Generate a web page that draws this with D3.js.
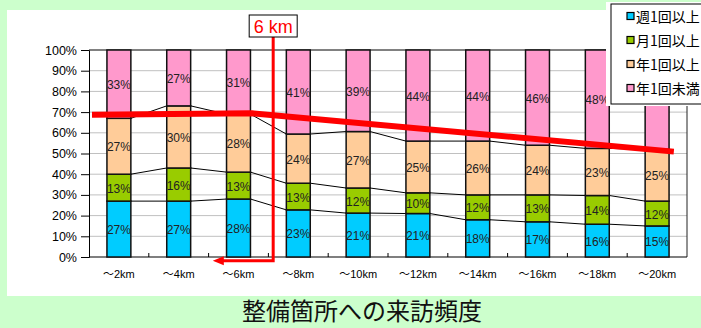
<!DOCTYPE html>
<html>
<head>
<meta charset="utf-8">
<script src="https://cdn.jsdelivr.net/npm/d3@7"></script>
<style>
  html, body { margin: 0; padding: 0; background: #ccffcc; }
  svg { display: block; }
</style>
</head>
<body>
<svg id="chart" width="701" height="328"></svg>
<script>
// Distance bands and visit-frequency shares (%)
const categories = ["～2km", "～4km", "～6km", "～8km", "～10km", "～12km", "～14km", "～16km", "～18km", "～20km"];
const weekly   = [27, 27, 28, 23, 21, 21, 18, 17, 16, 15];
const monthly  = [13, 16, 13, 13, 12, 10, 12, 13, 14, 12];
const yearly   = [27, 30, 28, 24, 27, 25, 26, 24, 23, 25];
const rarely   = [33, 27, 31, 41, 39, 44, 44, 46, 48, 48];
const seriesNames = ["週1回以上", "月1回以上", "年1回以上", "年1回未満"];
const seriesColors = ["#00ccff", "#99cc00", "#ffcc99", "#ff99cc"];
const yTicks = [0, 10, 20, 30, 40, 50, 60, 70, 80, 90, 100];

// Trend annotation: positions in band units, levels in %
const trendX = [0.05, 2.73, 9.78];
const trendY = [68.7, 69.4, 50.9];

// "6km" marker: vertical drop in band units, pointing back to the 6km band
const markerText = "6 km";
const markerX = 3.08;
const markerArrowX = 2.07;
const markerLevel = -1.8;

const chartTitle = "整備箇所への来訪頻度";

const svg = d3.select("#chart");
const W = 701, H = 328;
const plot = { left: 89, right: 687, top: 50, bottom: 257 };
const legendBox = { x: 611, y: 4, w: 100, h: 100 };

// white panel
svg.append("rect").attr("x", 7).attr("y", 10).attr("width", W - 7).attr("height", 286).attr("fill", "#fff");

const keys = seriesNames;
const rows = categories.map((c, i) => ({
  cat: c,
  [keys[0]]: weekly[i], [keys[1]]: monthly[i], [keys[2]]: yearly[i], [keys[3]]: rarely[i]
}));
const stacked = d3.stack().keys(keys).offset(d3.stackOffsetExpand)(rows);

const x = d3.scaleBand().domain(categories).range([plot.left, plot.right]).paddingInner(0.6).paddingOuter(0.3);
const pos = d3.scaleLinear().domain([0, categories.length]).range([plot.left, plot.right]);
const y = d3.scaleLinear().domain([0, 1]).range([plot.bottom, plot.top]);
const yPct = d3.scaleLinear().domain([0, 100]).range([plot.bottom, plot.top]);

// gridlines
svg.append("g").selectAll("line").data(yTicks.slice(1)).join("line")
  .attr("x1", plot.left).attr("x2", plot.right)
  .attr("y1", d => yPct(d)).attr("y2", d => yPct(d))
  .attr("stroke", "#c0c0c0").attr("stroke-width", 1);

// y axis
const yAxis = d3.axisLeft(yPct).tickValues(yTicks).tickFormat(d => d + "%").tickSize(8).tickPadding(4);
const gy = svg.append("g").attr("transform", `translate(${plot.left},0)`).call(yAxis);
gy.select(".domain").attr("stroke", "#000");
gy.selectAll(".tick line").attr("stroke", "#000");
gy.selectAll(".tick text").attr("font-family", "'Liberation Sans', Arial, sans-serif").attr("font-size", 12.5).attr("fill", "#000");

// plot border (top/right)
svg.append("path")
  .attr("d", `M${plot.left},${plot.top}H${plot.right}V${plot.bottom}`)
  .attr("fill", "none").attr("stroke", "#222").attr("stroke-width", 1);

// x axis with inner ticks at band boundaries
const boundaries = d3.range(1, categories.length);
svg.append("line").attr("x1", plot.left).attr("x2", plot.right)
  .attr("y1", plot.bottom).attr("y2", plot.bottom).attr("stroke", "#000").attr("stroke-width", 1.2);
svg.append("g").selectAll("line").data(boundaries).join("line")
  .attr("x1", d => pos(d)).attr("x2", d => pos(d))
  .attr("y1", plot.bottom).attr("y2", plot.bottom - 4)
  .attr("stroke", "#000");
svg.append("g").selectAll("text").data(categories).join("text")
  .attr("x", d => x(d) + x.bandwidth() / 2).attr("y", 274)
  .attr("text-anchor", "middle").attr("dominant-baseline", "central")
  .attr("font-family", "'Liberation Sans', Arial, 'Noto Sans CJK JP', sans-serif")
  .attr("font-size", 11).attr("fill", "#000")
  .text(d => d);

// series lines joining the stack boundaries between neighbouring bars
stacked.slice(0, 3).forEach(layer => {
  const segs = d3.range(layer.length - 1).map(i => [
    [x(categories[i]) + x.bandwidth(), y(layer[i][1])],
    [x(categories[i + 1]), y(layer[i + 1][1])]
  ]);
  svg.append("g").selectAll("line").data(segs).join("line")
    .attr("x1", d => d[0][0]).attr("y1", d => d[0][1])
    .attr("x2", d => d[1][0]).attr("y2", d => d[1][1])
    .attr("stroke", "#000").attr("stroke-width", 1);
});

// bars, with value labels (labels sitting under the legend are left out)
const underLegend = (cx, cy) => cx > legendBox.x && cy < legendBox.y + legendBox.h;
stacked.forEach((layer, k) => {
  const g = svg.append("g");
  g.selectAll("rect").data(layer).join("rect")
    .attr("x", d => x(d.data.cat)).attr("width", x.bandwidth())
    .attr("y", d => y(d[1])).attr("height", d => y(d[0]) - y(d[1]))
    .attr("fill", seriesColors[k]).attr("stroke", "#111").attr("stroke-width", 1.5);
  const labelled = layer.filter(d =>
    !underLegend(x(d.data.cat) + x.bandwidth() / 2, (y(d[0]) + y(d[1])) / 2));
  g.selectAll("text").data(labelled).join("text")
    .attr("x", d => x(d.data.cat) + x.bandwidth() / 2)
    .attr("y", d => (y(d[0]) + y(d[1])) / 2 + 1)
    .attr("text-anchor", "middle").attr("dominant-baseline", "central")
    .attr("font-family", "'Liberation Sans Narrow', 'Liberation Sans', Arial, sans-serif")
    .attr("font-size", 12).attr("fill", "#222")
    .text(d => d.data[layer.key] + "%");
});

// trend annotation
const trendLine = d3.line().x(d => pos(d[0])).y(d => yPct(d[1]));
svg.append("path")
  .attr("d", trendLine(trendX.map((v, i) => [v, trendY[i]])))
  .attr("fill", "none").attr("stroke", "#ff0000").attr("stroke-width", 6);

// 6km marker
const mx = pos(markerX), my = yPct(markerLevel), ax = pos(markerArrowX);
const boxW = 48, boxH = 22, boxTop = 15;
svg.append("path")
  .attr("d", `M${mx},${boxTop + boxH}V${my}H${ax + 9}`)
  .attr("fill", "none").attr("stroke", "#ff0000").attr("stroke-width", 3);
svg.append("path")
  .attr("d", `M${ax},${my}L${ax + 11},${my - 4.5}L${ax + 11},${my + 4.5}Z`)
  .attr("fill", "#ff0000");
svg.append("rect").attr("x", mx - boxW / 2).attr("y", boxTop).attr("width", boxW).attr("height", boxH)
  .attr("fill", "#fff").attr("stroke", "#000").attr("stroke-width", 1);
svg.append("text").attr("x", mx).attr("y", boxTop + boxH / 2 + 1)
  .attr("text-anchor", "middle").attr("dominant-baseline", "central")
  .attr("font-family", "'Liberation Sans', Arial, sans-serif").attr("font-size", 18)
  .attr("fill", "#ff0000").text(markerText);

// legend
const lg = svg.append("g");
lg.append("rect").attr("x", legendBox.x - 5).attr("y", legendBox.y - 2).attr("width", legendBox.w).attr("height", legendBox.h + 4).attr("fill", "#fff");
lg.append("rect").attr("x", legendBox.x).attr("y", legendBox.y).attr("width", legendBox.w).attr("height", legendBox.h)
  .attr("fill", "#fff").attr("stroke", "#000").attr("stroke-width", 1);
const items = lg.selectAll("g.item").data(seriesNames).join("g").attr("class", "item")
  .attr("transform", (d, i) => `translate(0,${16 + i * 24})`);
items.append("rect").attr("x", 627).attr("y", -3.5).attr("width", 7).attr("height", 7)
  .attr("fill", (d, i) => seriesColors[i]).attr("stroke", "#000").attr("stroke-width", 1.2);
items.append("text").attr("x", 636).attr("y", 0).attr("dominant-baseline", "central")
  .attr("font-family", "'Noto Sans CJK JP', sans-serif").attr("font-size", 14).attr("fill", "#000")
  .text(d => d);

// title
svg.append("text").attr("x", 362).attr("y", 309)
  .attr("text-anchor", "middle").attr("dominant-baseline", "central")
  .attr("font-family", "'Noto Sans CJK JP', sans-serif").attr("font-size", 24).attr("fill", "#111")
  .text(chartTitle);
</script>
</body>
</html>
